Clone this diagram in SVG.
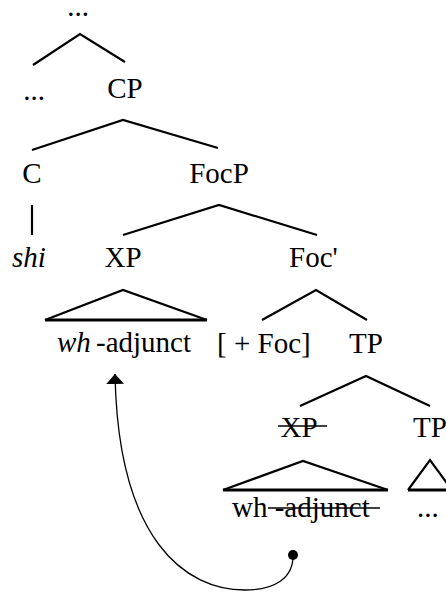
<svg xmlns="http://www.w3.org/2000/svg" width="446" height="592" viewBox="0 0 446 592">
<g id="n-top"><text x="78" y="16" font-size="29" font-family="'Liberation Serif'" text-anchor="middle">...</text></g>
<g id="n-dots1"><text x="34" y="100" font-size="29" font-family="'Liberation Serif'" text-anchor="middle">...</text></g>
<g id="n-CP"><text x="125" y="98" font-size="29" font-family="'Liberation Serif'" text-anchor="middle">CP</text></g>
<g id="n-C"><text x="32" y="183" font-size="29" font-family="'Liberation Serif'" text-anchor="middle">C</text></g>
<g id="n-FocP"><text x="219" y="183" font-size="29" font-family="'Liberation Serif'" text-anchor="middle">FocP</text></g>
<g id="n-shi"><text x="29" y="267" font-size="29" font-family="'Liberation Serif'" text-anchor="middle" font-style="italic">shi</text></g>
<g id="n-XP"><text x="123" y="267" font-size="29" font-family="'Liberation Serif'" text-anchor="middle">XP</text></g>
<g id="n-Focbar"><text x="289" y="267" font-size="29" font-family="'Liberation Serif'">Foc'</text></g>
<g id="n-whadj"><text x="57" y="352" font-size="29" font-family="'Liberation Serif'" font-style="italic">wh</text><text x="96" y="352" font-size="29" font-family="'Liberation Serif'">-adjunct</text></g>
<g id="n-Foc"><text x="217" y="353" font-size="29" font-family="'Liberation Serif'">[ + Foc]</text></g>
<g id="n-TP"><text x="366" y="353" font-size="29" font-family="'Liberation Serif'" text-anchor="middle">TP</text></g>
<g id="n-XPcopy"><text x="299" y="437" font-size="29" font-family="'Liberation Serif'" text-anchor="middle">XP</text><line x1="278" y1="426" x2="327" y2="426" stroke="#000" stroke-width="1.6"/></g>
<g id="n-TP2"><text x="413" y="437" font-size="29" font-family="'Liberation Serif'">TP</text></g>
<g id="n-whcopy"><text x="232" y="517" font-size="29" font-family="'Liberation Serif'">wh -adjunct</text><line x1="268" y1="508" x2="380" y2="508" stroke="#000" stroke-width="1.6"/></g>
<g id="n-dots2"><text x="417" y="517" font-size="29" font-family="'Liberation Serif'">...</text></g>
<g id="connectors" fill="none" stroke="#000" stroke-width="2.2">
<polyline points="33,65 80,34 125,62"/>
<polyline points="32,150 123,120 218,148"/>
<line x1="32" y1="205" x2="32" y2="235"/>
<polyline points="123,235 219,205 317,235"/>
<polyline points="262,320 316,290 367,320"/>
<polyline points="300,406 366,376 430,406"/>
<polyline points="45,320 123,290 207,320"/>
<line x1="45" y1="320" x2="207" y2="320" stroke-width="3.2"/>
<polyline points="223,490 303,461 388,490"/>
<line x1="223" y1="490" x2="388" y2="490" stroke-width="3.2"/>
<polyline points="408,490 430,460 452,490"/>
<line x1="408" y1="490" x2="452" y2="490" stroke-width="3.2"/>
<path d="M293,556 C293,578 275,590 245,590 C185,590 118,540 115,374" stroke-width="1.3" marker-end="url(#ah)"/>
<circle cx="293" cy="555" r="5" fill="#000" stroke="none"/>
</g>
<defs>
<marker id="ah" viewBox="0 0 10 18" refX="10" refY="9" markerWidth="10" markerHeight="18" markerUnits="userSpaceOnUse" orient="auto">
<path d="M0,0 L10,9 L0,18 z" fill="#000"/>
</marker>
</defs>
</svg>
